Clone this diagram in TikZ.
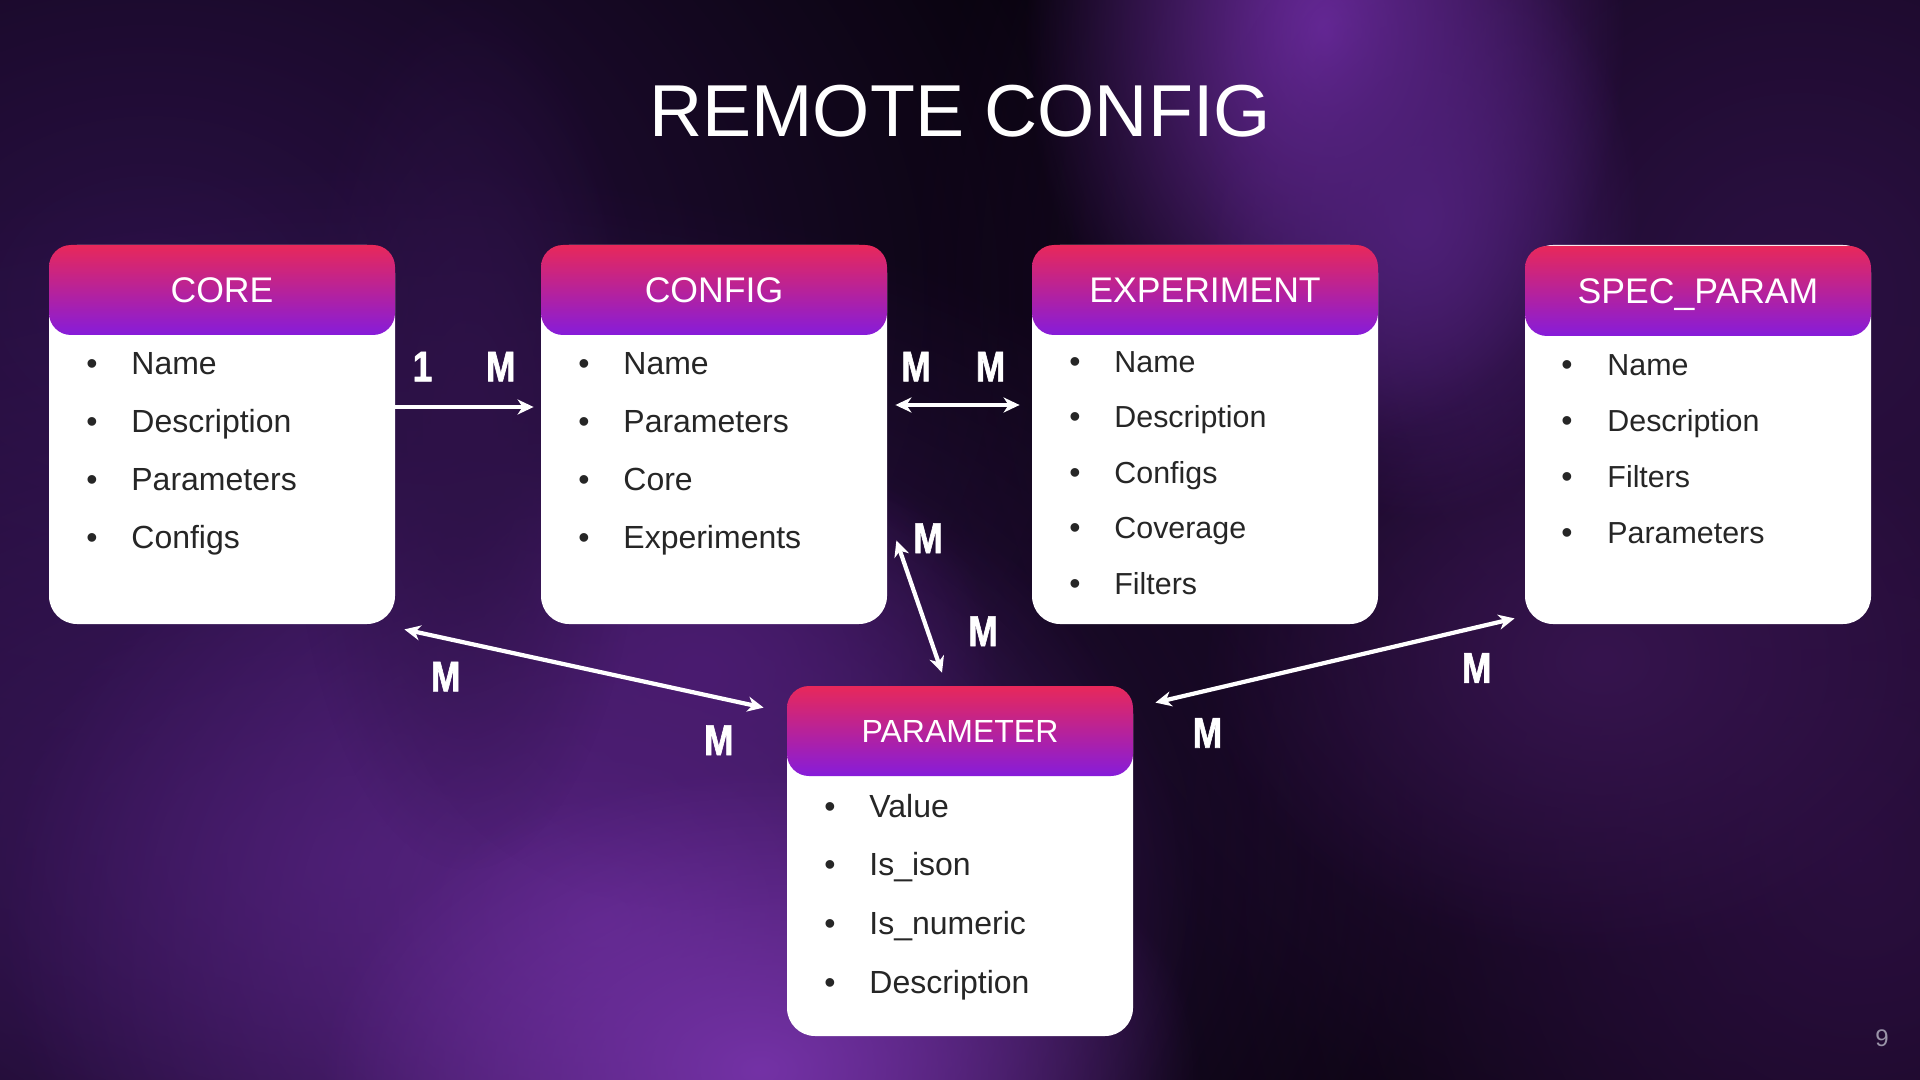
\documentclass[tikz,border=0pt]{standalone}
\usepackage{fontspec}
\setmainfont{Liberation Sans}
\newfontfamily\lblfont[FakeStretch=0.82, FakeBold=1.4]{Liberation Sans}
\usetikzlibrary{arrows.meta,calc,fadings}
\definecolor{bgbase}{HTML}{07030B}
\definecolor{hdtop}{HTML}{E8285A}
\definecolor{hdbot}{HTML}{861CDA}
\definecolor{bodytext}{HTML}{262626}
\definecolor{pnum}{HTML}{9A94A8}
\definecolor{gL1}{HTML}{2A1045}
\definecolor{gL2}{HTML}{3E1862}
\definecolor{gL3}{HTML}{5A2585}
\definecolor{gL4}{HTML}{7432A6}
\definecolor{gL5}{HTML}{4A1C70}
\definecolor{gL6}{HTML}{2E1248}
\definecolor{gR1}{HTML}{2C1044}
\definecolor{gR2}{HTML}{2A0E3E}
\definecolor{gR3}{HTML}{36144E}
\definecolor{gS1}{HTML}{6A2A9C}
\definecolor{gS2}{HTML}{4E2078}
\tikzfading[name=glowfade, inner color=transparent!0, outer color=transparent!100]
\tikzset{
  glow/.style={fill=#1, path fading=glowfade},
  bodybox/.style={fill=white, draw=none, rounded corners=14pt, minimum width=173pt, minimum height=189.5pt, inner sep=0pt},
  hdr/.style={top color=hdtop, bottom color=hdbot, draw=none, rounded corners=11pt, minimum width=173pt, minimum height=45pt, inner sep=0pt, text=white, text depth=0pt},
  hdrbig/.style={hdr, font=\fontsize{17.8}{20}\selectfont, text height=12.74pt},
  hdrsmall/.style={hdr, font=\fontsize{16}{18}\selectfont, text height=11.46pt},
  bul/.style={anchor=base, text=bodytext, inner sep=0pt, font=\fontsize{16}{18}\selectfont},
  itm/.style={anchor=base west, text=bodytext, inner sep=0pt},
  card/.style={text=white, inner sep=0pt, text height=15.4pt, text depth=0pt, font=\lblfont\bfseries\fontsize{21.5}{24}\selectfont},
  rel/.style={draw=white, line width=2.1pt},
  tip/.tip={Stealth[length=8pt, width=7.5pt, inset=2.5pt]}
}
\begin{document}
\begin{tikzpicture}[x=0.5pt, y=-0.5pt]
\useasboundingbox (0,0) rectangle (1920,1080);
\fill[bgbase] (0,0) rectangle (1920,1080);
% background glows (radii are twice the visible reach)
\fill[glow=gL1] (150,300) ellipse [x radius=1000, y radius=800];
\fill[glow=gL2] (350,860) ellipse [x radius=1100, y radius=700];
\fill[glow=gL3] (600,920) ellipse [x radius=600, y radius=500];
\fill[glow=gL5] (700,670) ellipse [x radius=300, y radius=240];
\fill[glow=gL4] (760,1070) ellipse [x radius=440, y radius=300];
\fill[glow=gL6] (467,430) ellipse [x radius=180, y radius=440];
\fill[glow=gR1] (1800,300) ellipse [x radius=900, y radius=900];
\fill[glow=gR2] (1860,860) ellipse [x radius=700, y radius=800];
\fill[glow=gR3] (1600,660) ellipse [x radius=400, y radius=300];
\fill[glow=gS1] (1325,30) ellipse [x radius=300, y radius=420];
\fill[glow=gS2] (1420,220) ellipse [x radius=220, y radius=300];

% title
\node[text=white, anchor=base, inner sep=0pt, font=\fontsize{36.8}{40}\selectfont] (title) at (960,137) {REMOTE CONFIG};

% boxes
\node[bodybox] (core) at (222,434.5) {};
\node[bodybox] (config) at (714,434.5) {};
\node[bodybox] (experiment) at (1205,434.5) {};
\node[bodybox] (spec) at (1698,434.5) {};
\node[bodybox, minimum height=175pt] (parameter) at (960,861) {};

\node[hdrbig] (core-h) at (222,290) {CORE};
\node[hdrbig] (config-h) at (714,290) {CONFIG};
\node[hdrbig] (experiment-h) at (1205,290) {EXPERIMENT};
\node[hdrbig] (spec-h) at (1698,291) {SPEC\_PARAM};
\node[hdrsmall] (parameter-h) at (960,731) {PARAMETER};

% items
\foreach \t [count=\i] in {Name,Description,Parameters,Configs}{
  \node[bul] (core-b\i) at (92,{374+58*(\i-1)}) {•};
  \node[itm, font=\fontsize{16}{18}\selectfont] (core-\i) at (131,{374+58*(\i-1)}) {\t};
}
\foreach \t [count=\i] in {Name,Parameters,Core,Experiments}{
  \node[bul] (config-b\i) at (584,{374+58*(\i-1)}) {•};
  \node[itm, font=\fontsize{16}{18}\selectfont] (config-\i) at (623,{374+58*(\i-1)}) {\t};
}
\foreach \t [count=\i] in {Name,Description,Configs,Coverage,Filters}{
  \node[bul] (experiment-b\i) at (1075,{372+55.5*(\i-1)}) {•};
  \node[itm, font=\fontsize{15.2}{17}\selectfont] (experiment-\i) at (1114,{372+55.5*(\i-1)}) {\t};
}
\foreach \t [count=\i] in {Name,Description,Filters,Parameters}{
  \node[bul] (spec-b\i) at (1567,{375+56*(\i-1)}) {•};
  \node[itm, font=\fontsize{15.2}{17}\selectfont] (spec-\i) at (1607,{375+56*(\i-1)}) {\t};
}
\foreach \t [count=\i] in {Value,Is\_ison,Is\_numeric,Description}{
  \node[bul] (parameter-b\i) at (830,{817+58.7*(\i-1)}) {•};
  \node[itm, font=\fontsize{16}{18}\selectfont] (parameter-\i) at (869,{817+58.7*(\i-1)}) {\t};
}

% connector end points
\coordinate (r1a) at ($(core.east)+(-1,-27.5)$);
\coordinate (r1b) at ($(config.west)+(-7,-27.5)$);
\coordinate (r2a) at ($(config.east)+(8,-29.5)$);
\coordinate (r2b) at ($(experiment.west)+(-12,-29.5)$);
\coordinate (r3a) at ($(config.south east)+(9,-84)$);
\coordinate (r3b) at ($(parameter.north)+(-18,-13)$);
\coordinate (r4a) at ($(core.south east)+(9,5)$);
\coordinate (r4b) at ($(parameter.north west)+(-23,22)$);
\coordinate (r5a) at ($(parameter.north east)+(22,17)$);
\coordinate (r5b) at ($(spec.south west)+(-10,-6)$);

\draw[rel, -{tip}] (r1a) -- (r1b);
\draw[rel, {tip}-{tip}] (r2a) -- (r2b);
\draw[rel, {tip}-{tip}] (r3a) -- (r3b);
\draw[rel, {tip}-{tip}] (r4a) -- (r4b);
\draw[rel, {tip}-{tip}] (r5a) -- (r5b);

% cardinality labels
\node[card] (c1a) at (422.5,366) {1};
\node[card] (c1b) at (500.8,366) {M};
\node[card] (c2a) at (916,366) {M};
\node[card] (c2b) at (990.6,366) {M};
\node[card] (c3a) at (928,537.6) {M};
\node[card] (c3b) at (983,630.6) {M};
\node[card] (c4a) at (445.7,676) {M};
\node[card] (c4b) at (718.8,739.6) {M};
\node[card] (c5a) at (1207.4,732.3) {M};
\node[card] (c5b) at (1476.7,667.4) {M};

% page number
\node[text=pnum, inner sep=0pt, font=\fontsize{12}{14}\selectfont] (pageno) at (1882,1038) {9};
\end{tikzpicture}
\end{document}
